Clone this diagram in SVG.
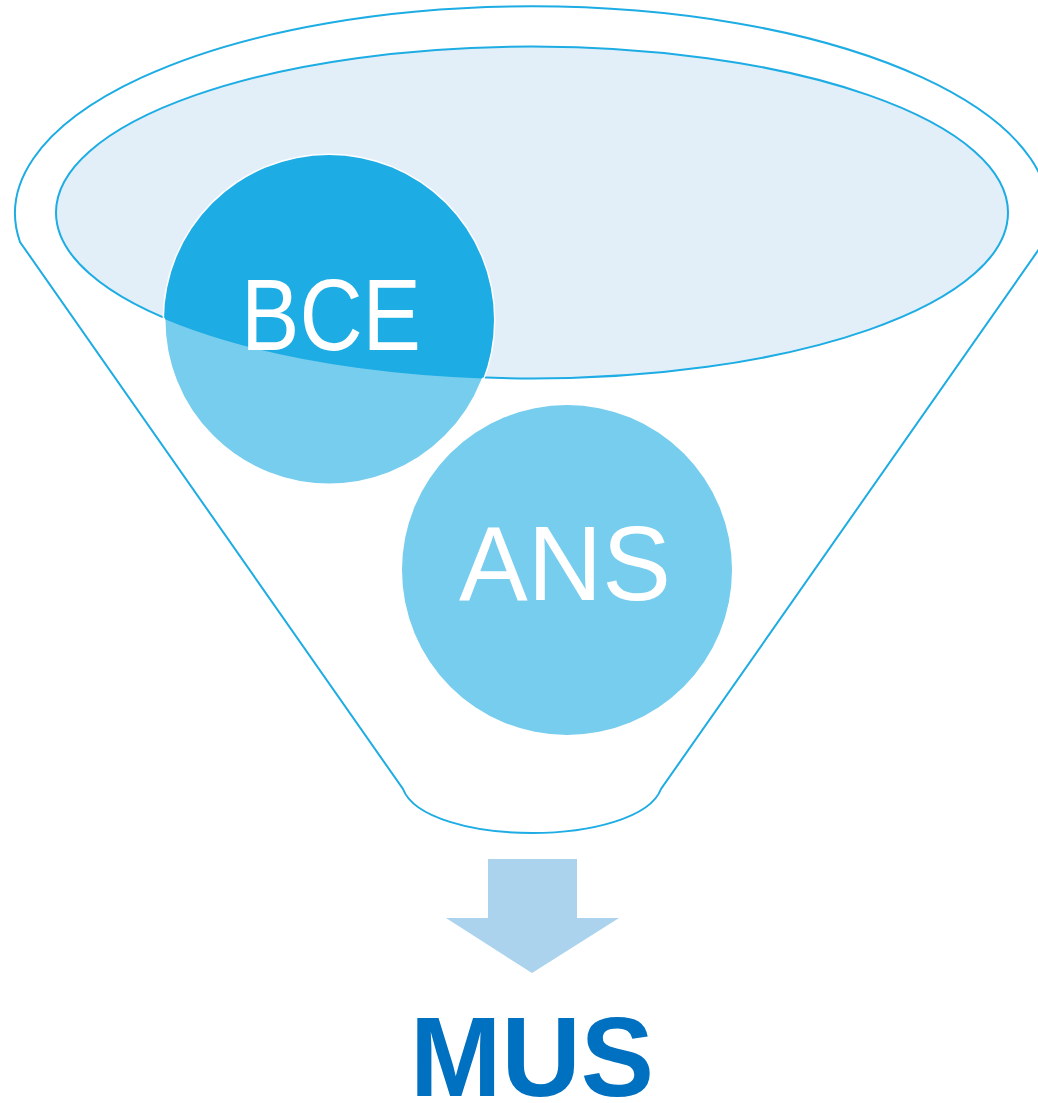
<svg xmlns="http://www.w3.org/2000/svg" width="1038" height="1103" viewBox="0 0 1038 1103">
<style>
.ln{fill:none;stroke:#1DACE3;stroke-width:2}
.lbl{font-family:"Liberation Sans",Arial,sans-serif;fill:#fff;text-anchor:middle}
</style>
<defs>
<clipPath id="ellClip"><ellipse cx="532" cy="212.5" rx="476" ry="166"/></clipPath>
<clipPath id="bceClip"><circle cx="329" cy="320" r="164"/></clipPath>
</defs>
<rect width="1038" height="1103" fill="#fff"/>
<g id="funnel">
<path class="ln" d="M20 242 A517 207 0 1 1 1044 242 L661 789 C650 818 590 833 532 833 C474 833 414 818 403 789 Z" fill="#fff"/>
<ellipse cx="532" cy="212.5" rx="476" ry="166" fill="#E2EFF9" stroke="#1DACE3" stroke-width="2"/>
</g>
<g id="bce">
<circle cx="329" cy="320" r="165" fill="#76CDEE" stroke="#fff" stroke-width="3"/>
<circle cx="329" cy="320" r="165" fill="#1DACE3" clip-path="url(#ellClip)"/>
<ellipse class="ln" cx="532" cy="212.5" rx="476" ry="166" clip-path="url(#bceClip)"/>
<text class="lbl" x="331" y="350" font-size="102" textLength="180" lengthAdjust="spacingAndGlyphs">BCE</text>
</g>
<g id="ans">
<circle cx="567" cy="570" r="165" fill="#76CDEE"/>
<text class="lbl" x="565" y="600" font-size="105" textLength="212" lengthAdjust="spacingAndGlyphs">ANS</text>
</g>
<g id="connectors">
<path id="arrow" d="M488 859 H577 V918 H619 L532 973 L446 918 H488 Z" fill="#ABD3EE"/>
</g>
<g id="mus">
<text x="532" y="1096" font-family="'Liberation Sans',Arial,sans-serif" font-weight="bold" font-size="114" fill="#0070C0" text-anchor="middle" textLength="244" lengthAdjust="spacingAndGlyphs">MUS</text>
</g>
</svg>
